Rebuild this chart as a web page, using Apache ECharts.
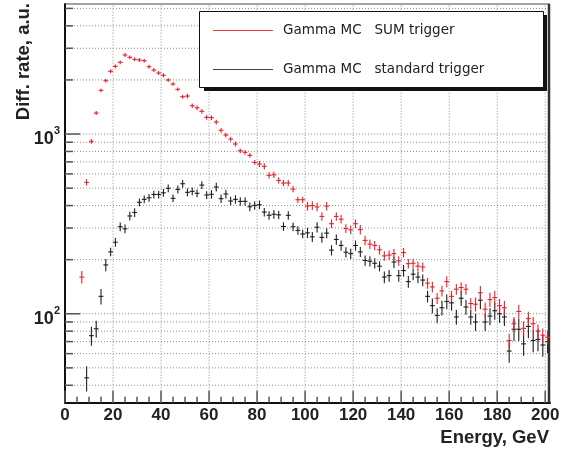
<!DOCTYPE html>
<html><head><meta charset="utf-8">
<script src="https://cdn.jsdelivr.net/npm/echarts@6/dist/echarts.min.js"></script>
<style>html,body{margin:0;padding:0;background:#fff}#c{width:575px;height:452px}</style>
</head><body><div id="c"></div>
<script>
// Bin centres (GeV), 2 GeV bins
const energy = [7,9,11,13,15,17,19,21,23,25,27,29,31,33,35,37,39,41,43,45,47,49,51,53,55,57,59,61,63,65,67,69,71,73,75,77,79,81,83,85,87,89,91,93,95,97,99,101,103,105,107,109,111,113,115,117,119,121,123,125,127,129,131,133,135,137,139,141,143,145,147,149,151,153,155,157,159,161,163,165,167,169,171,173,175,177,179,181,183,185,187,189,191,193,195,197,199,201];
// Gamma MC, SUM trigger
const sumTrigger = [
  160,538,911,1309,1750,1980,2234,2380,2506,2752,
  2672,2604,2581,2559,2368,2270,2185,2122,1998,1897,
  1773,1613,1627,1437,1400,1337,1239,1233,1166,1049,
  987,938,880,807,791,761,695,681,661,589,
  593,552,534,534,494,431,431,397,400,393,
  348,397,317,348,336,298,293,317,294,256,
  244,240,227,210,212,216,197,219,190,191,
  184,182,148,141,122,134,151,125,137,140,
  137,114,113,131,106,120,123,111,108,71,
  88,103,83,94,88,80,76,74];
// Gamma MC, standard trigger
const stdTrigger = [
  null,44,75.5,82.5,125,187,221,250,305,297,
  350,366,417,433,442,461,461,471,499,439,
  492,529,474,480,468,520,458,462,507,437,
  464,424,433,422,422,394,401,404,368,353,
  358,355,306,353,305,291,278,282,268,303,
  266,281,226,259,240,220,216,240,221,198,
  196,191,184,160,163,194,163,174,151,166,
  160,154,125,111,98,108,117,115,96,122,
  109,96,90,119,90,97,104,100,96,62,
  82,82,68,85,71,72,67,70];
// error bars, percent of value
const sumErrPct = [
  8,4,3,2.5,2.5,2.5,2.5,2.5,2.5,2.5,
  2.5,2.5,2.5,2.5,2.5,2.5,2.5,2.5,2.5,2.5,
  2.5,2.5,3,3,3,3,3,3,3,3,
  3,3,3,3,3,3,3,4,4,4,
  4,4,4,4,4,4,4,5.5,5.5,5.5,
  5.5,5.5,5.5,5.5,5.5,5.5,5.5,5.5,6,6,
  6,6,6,6,6,6,6,6,6,6,
  6,6,7,7,7,7,7,7,7,7,
  7,7,9,9,9,9,9,9,9,9,
  9,9,9,9,9,9,9,9];
const stdErrPct = [
  null,16,12,11,10,7.7,5.5,5.5,5.5,5.5,
  5.5,5.5,5,5,5,5,5,5,5,5,
  5,5,5,5,5,5,5,5.5,5.5,5.5,
  5.5,5.5,5.5,5.5,5.5,5.5,5.5,5.5,5.5,5.5,
  5.5,5.5,5.5,5.5,5.5,5.5,5.5,6.5,6.5,6.5,
  6.5,6.5,6.5,6.5,6.5,6.5,6.5,6.5,6.5,6.5,
  6.5,6.5,6.5,7.5,7.5,7.5,7.5,7.5,7.5,7.5,
  7.5,7.5,7.5,9.5,9.5,9.5,9.5,9.5,9.5,9.5,
  9.5,9.5,11,11,11,11,11,11,11,14,
  14,14,14,14,14,14,14,14];
const binHalfWidth = 1;
// axes
const xMajorTicks = [0,20,40,60,80,100,120,140,160,180,200];
const xMinorStep = 5;
const yMajorTicks = [100,1000];
const yMajorLabels = {100:'2', 1000:'3'};
const yMinorTicks = [40,50,60,70,80,90,200,300,400,500,600,700,800,900,2000,3000,4000,5000];
const X_MIN = 0, X_MAX = 202, Y_MIN = 32, Y_MAX = 5290;
const legendItems = ['Gamma MC   SUM trigger', 'Gamma MC   standard trigger'];

const RED = '#e8202a', BLACK = '#1e1e1e';

function crossData(vals, errs){
  const out = [];
  energy.forEach((e,i)=>{ if(vals[i]!=null) out.push([e, vals[i], vals[i]*errs[i]/100]); });
  return out;
}
function crossRender(color){
  return function(params, api){
    const x = api.value(0), v = api.value(1), e = api.value(2);
    const pL = api.coord([x-binHalfWidth, v]), pR = api.coord([x+binHalfWidth, v]);
    const pT = api.coord([x, v+e]), pB = api.coord([x, v-e]);
    const st = {stroke: color, lineWidth: 1.1};
    return {type:'group', children:[
      {type:'line', shape:{x1:pL[0],y1:pL[1],x2:pR[0],y2:pR[1]}, style:st},
      {type:'line', shape:{x1:pT[0],y1:pT[1],x2:pB[0],y2:pB[1]}, style:st}
    ]};
  };
}
function decoRender(params, api){
  const ch = [];
  const dot = {stroke:'#8c8c8c', lineWidth:1, lineDash:[1,2]};
  const L = (a,b,st)=>ch.push({type:'line', shape:{x1:a[0],y1:a[1],x2:b[0],y2:b[1]}, style:st});
  xMajorTicks.forEach(x=>{ if(x===X_MIN) return; L(api.coord([x,Y_MIN]), api.coord([x,Y_MAX]), dot); });
  yMajorTicks.concat(yMinorTicks).forEach(y=>{ L(api.coord([X_MIN,y]), api.coord([X_MAX,y]), dot); });
  const tk = {stroke:'#555', lineWidth:1.5};
  for(let x=X_MIN; x<=200; x+=xMinorStep){
    const a = api.coord([x,Y_MIN]);
    const len = xMajorTicks.indexOf(x)>=0 ? 12 : 6;
    L([a[0],a[1]], [a[0],a[1]-len], tk);
  }
  yMajorTicks.forEach(y=>{ const a=api.coord([X_MIN,y]); L(a,[a[0]+15,a[1]],tk); });
  yMinorTicks.forEach(y=>{ const a=api.coord([X_MIN,y]); L(a,[a[0]+8,a[1]],tk); });
  // frame top and right
  const tl = api.coord([X_MIN,Y_MAX]), tr = api.coord([X_MAX,Y_MAX]), br = api.coord([X_MAX,Y_MIN]);
  L(tl, tr, {stroke:'#444', lineWidth:1});
  L([tr[0]-1,tr[1]], [br[0]-1,br[1]], {stroke:'#333', lineWidth:2.5});
  return {type:'group', children:ch};
}

const chart = echarts.init(document.getElementById('c'), null, {renderer:'canvas'});
chart.setOption({
  animation:false,
  backgroundColor:'#fff',
  grid:{left:65, right:25, top:4, bottom:49.3, containLabel:false, outerBoundsMode:'none'},
  xAxis:{type:'value', min:X_MIN, max:X_MAX, interval:20,
    axisLine:{show:true, lineStyle:{color:'#111', width:2}},
    axisTick:{show:false}, splitLine:{show:false},
    axisLabel:{showMaxLabel:false, margin:4, color:'#222', fontSize:17, fontWeight:'bold', fontFamily:'Liberation Sans'}},
  yAxis:{type:'log', logBase:10, min:Y_MIN, max:Y_MAX,
    axisLine:{show:true, lineStyle:{color:'#111', width:2}},
    axisTick:{show:false}, splitLine:{show:false}, minorTick:{show:false},
    axisLabel:{margin:5, showMinLabel:false, showMaxLabel:false,
      formatter:function(v){
        for(const t of yMajorTicks){ if(Math.abs(v-t)<t*0.01) return '{b|10}{s|'+yMajorLabels[t]+'}'; }
        return '';
      },
      rich:{
        b:{fontSize:18, fontWeight:'bold', fontFamily:'Liberation Sans', color:'#222', padding:[10,0,0,0]},
        s:{fontSize:11, fontWeight:'bold', fontFamily:'Liberation Sans', color:'#222', padding:[0,0,6,0]}
      }}},
  series:[
    {type:'custom', name:'deco', data:[[X_MIN, Y_MIN]], renderItem:decoRender, z:1, silent:true, clip:false},
    {type:'custom', name:legendItems[1], data:crossData(stdTrigger, stdErrPct), renderItem:crossRender(BLACK), z:3, clip:false},
    {type:'custom', name:legendItems[0], data:crossData(sumTrigger, sumErrPct), renderItem:crossRender(RED), z:4, clip:false}
  ],
  graphic:[
    {type:'rect', shape:{x:204, y:15, width:343, height:76}, style:{fill:'#111'}, z:10},
    {type:'rect', shape:{x:199.5, y:11.5, width:344, height:76}, style:{fill:'#fff', stroke:'#111', lineWidth:1}, z:11},
    {type:'line', shape:{x1:213, y1:30.5, x2:273, y2:30.5}, style:{stroke:'#f03c3c', lineWidth:1}, z:12},
    {type:'line', shape:{x1:213, y1:69.5, x2:273, y2:69.5}, style:{stroke:'#444', lineWidth:1}, z:12},
    {type:'text', x:283, y:30, style:{text:legendItems[0], font:'13.5px "DejaVu Sans"', fill:'#222', align:'left', verticalAlign:'middle', textAlign:'left', textVerticalAlign:'middle'}, z:12},
    {type:'text', x:283, y:69, style:{text:legendItems[1], font:'13.5px "DejaVu Sans"', fill:'#222', align:'left', verticalAlign:'middle', textAlign:'left', textVerticalAlign:'middle'}, z:12},
    {type:'text', x:549, y:438, style:{text:'Energy, GeV', font:'bold 18.5px "Liberation Sans"', fill:'#222', align:'right', verticalAlign:'middle', textAlign:'right', textVerticalAlign:'middle'}, z:12},
    {type:'text', x:24, y:3, rotation:Math.PI/2, style:{text:'Diff. rate, a.u.', font:'bold 18.5px "Liberation Sans"', fill:'#222', align:'right', verticalAlign:'middle', textAlign:'right', textVerticalAlign:'middle'}, z:12}
  ]
});
</script>
</body></html>
